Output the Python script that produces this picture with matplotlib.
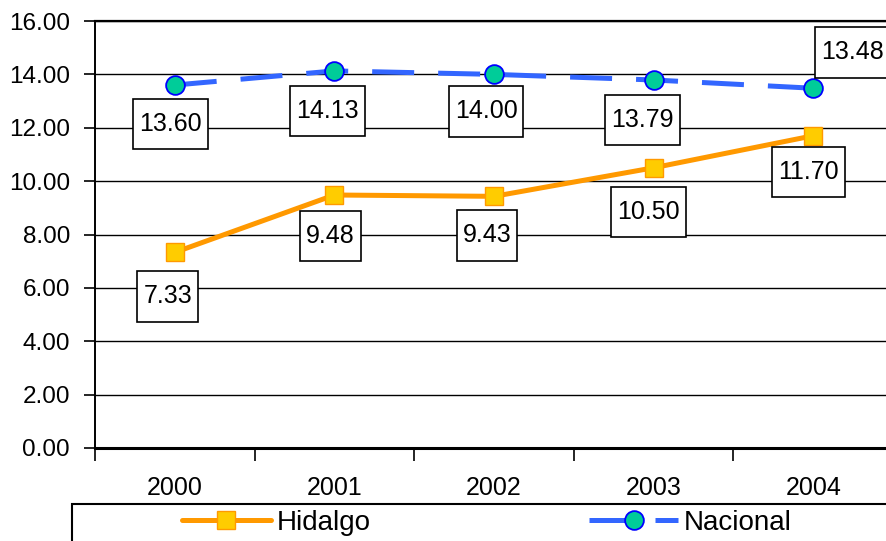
import matplotlib.pyplot as plt
from matplotlib.patches import Rectangle
from matplotlib.path import Path

plt.rcParams["font.family"] = ["Liberation Sans", "DejaVu Sans"]

# ==================== data ====================
YEARS = ["2000", "2001", "2002", "2003", "2004"]
HIDALGO = [7.33, 9.48, 9.43, 10.50, 11.70]
NACIONAL = [13.60, 14.13, 14.00, 13.79, 13.48]
Y_TICKS = [0, 2, 4, 6, 8, 10, 12, 14, 16]

# label offsets from the marker, in pixels (x right, y up)
HIDALGO_OFFSETS = [(-7, -44), (-4, -41), (-7, -39), (-5, -44), (-5, -36)]
NACIONAL_OFFSETS = [(-4, -39), (-7, -40), (-8, -37), (-11, -40), (39, 36)]

ORANGE = "#FF9900"
YELLOW = "#FFCC00"
BLUE = "#3366FF"
TEAL = "#00CC99"


def label_box(x0, y0, width, height, mutation_size):
    """Rectangle with more padding top/bottom than left/right, like Excel labels."""
    padx = 0.24 * mutation_size
    pady = 0.53 * mutation_size
    x0, y0 = x0 - padx, y0 - pady
    x1, y1 = x0 + width + 2 * padx, y0 + height + 2 * pady
    return Path([(x0, y0), (x1, y0), (x1, y1), (x0, y1), (x0, y0)], closed=True)


fig = plt.figure(figsize=(8.86, 5.41), dpi=100)
ax = fig.add_axes([95 / 886, 1 - 448 / 541, 798 / 886, 427 / 541])

xs = list(range(len(YEARS)))
ax.plot(xs, HIDALGO, color=ORANGE, linewidth=3.6, marker="s", markersize=13,
        markerfacecolor=YELLOW, markeredgecolor=ORANGE, markeredgewidth=1,
        label="Hidalgo", zorder=4, solid_capstyle="round")
ax.plot(xs, NACIONAL, color=BLUE, linewidth=3.6, dashes=(8.4, 4.8), marker="o",
        markersize=13.5, markerfacecolor=TEAL, markeredgecolor="#0000FF",
        markeredgewidth=1.3, label="Nacional", zorder=4)

px = 72 / fig.dpi
for series, offsets in ((HIDALGO, HIDALGO_OFFSETS), (NACIONAL, NACIONAL_OFFSETS)):
    for x, v, (dx, dy) in zip(xs, series, offsets):
        ax.annotate(f"{v:.2f}", (x, v), xytext=(dx * px, dy * px),
                    textcoords="offset points", ha="center", va="center",
                    fontsize=18, zorder=6, annotation_clip=False,
                    bbox=dict(boxstyle=label_box, facecolor="white",
                              edgecolor="black", linewidth=1.2))

ax.set_xlim(-0.5, len(YEARS) - 0.5)
ax.set_ylim(0, 16)
ax.set_yticks(Y_TICKS)
ax.set_yticklabels([f"{t:.2f}" for t in Y_TICKS])
ax.set_xticks(xs)
ax.set_xticklabels(YEARS)
ax.set_xticks([x - 0.5 for x in range(len(YEARS) + 1)], minor=True)

ax.tick_params(axis="y", direction="out", length=8, width=1.2, pad=10, labelsize=17.5)
ax.tick_params(axis="x", which="major", length=0, pad=20, labelsize=18)
ax.tick_params(axis="x", which="minor", direction="out", length=9, width=1.2)

ax.grid(axis="y", color="black", linewidth=1.0)
ax.set_axisbelow(True)
ax.spines["right"].set_visible(False)
ax.spines["top"].set_linewidth(1.6)
ax.spines["left"].set_linewidth(1.4)
ax.spines["bottom"].set_linewidth(2.2)

# legend frame, running off the right and bottom edges
fig.patches.append(Rectangle((72 / 886, -0.1), 1.0, 0.1 + 1 - 504 / 541,
                             transform=fig.transFigure, facecolor="none",
                             edgecolor="black", linewidth=1.5))
fig.legend(loc="center left", bbox_to_anchor=(182 / 886, 1 - 523 / 541),
           ncol=2, frameon=False, fontsize=20, borderpad=0, borderaxespad=0,
           handlelength=3.2, handletextpad=0.22, columnspacing=7.85)

fig.savefig("out.png", dpi=100)
